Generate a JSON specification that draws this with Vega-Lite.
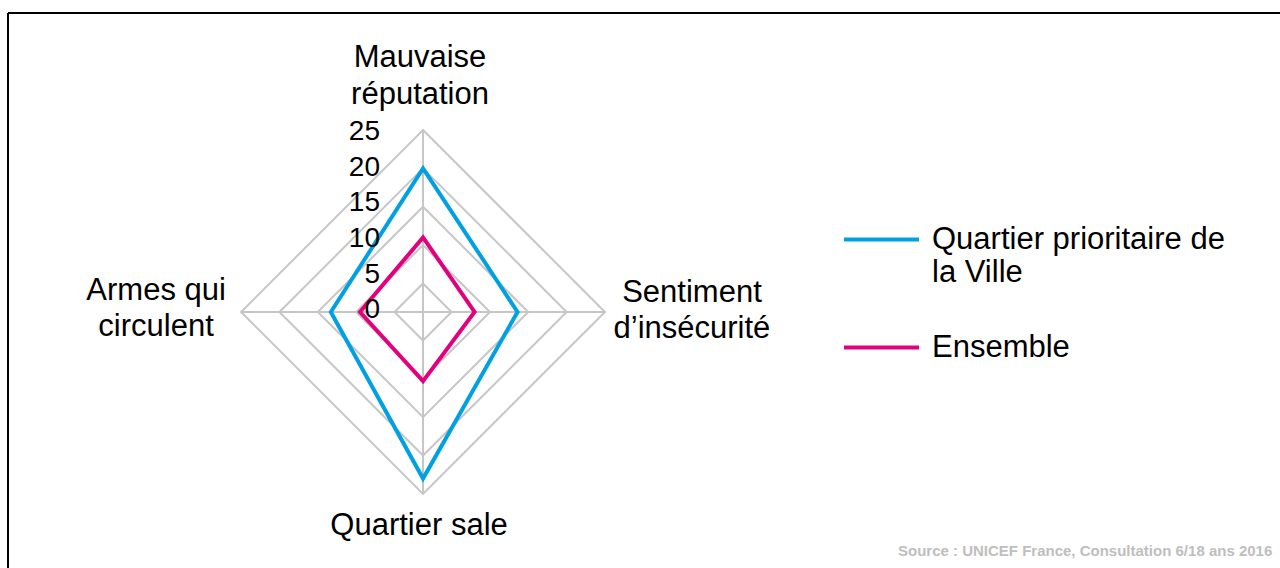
{
  "$schema": "https://vega.github.io/schema/vega-lite/v6.json",
  "width": 1272,
  "height": 555,
  "padding": {"left": 8, "top": 13, "right": 0, "bottom": 0},
  "autosize": {"type": "none"},
  "background": "white",
  "title": {
    "text": "Source : UNICEF France, Consultation 6/18 ans 2016",
    "orient": "bottom",
    "anchor": "start",
    "frame": "group",
    "dx": 890,
    "offset": -13,
    "font": "Liberation Sans",
    "fontSize": 15,
    "fontWeight": "bold",
    "color": "#BEBEBE",
    "baseline": "alphabetic"
  },
  "config": {
    "view": {"stroke": null},
    "font": "Liberation Sans",
    "legend": {
      "orient": "none",
      "legendX": 834,
      "legendY": 187,
      "padding": 0,
      "title": null,
      "symbolType": "stroke",
      "symbolSize": 5625,
      "symbolStrokeWidth": 4,
      "labelFont": "Liberation Sans",
      "labelFontSize": 31,
      "labelColor": "black",
      "labelOffset": 11,
      "labelLimit": 0,
      "labelBaseline": "middle",
      "rowPadding": 20
    }
  },
  "datasets": {
    "series": [
      {"serie": "Quartier prioritaire de la Ville", "axe": "Mauvaise réputation", "valeur": 20},
      {"serie": "Quartier prioritaire de la Ville", "axe": "Sentiment d’insécurité", "valeur": 13.6},
      {"serie": "Quartier prioritaire de la Ville", "axe": "Quartier sale", "valeur": 23},
      {"serie": "Quartier prioritaire de la Ville", "axe": "Armes qui circulent", "valeur": 13.3},
      {"serie": "Ensemble", "axe": "Mauvaise réputation", "valeur": 11},
      {"serie": "Ensemble", "axe": "Sentiment d’insécurité", "valeur": 8},
      {"serie": "Ensemble", "axe": "Quartier sale", "valeur": 10.3},
      {"serie": "Ensemble", "axe": "Armes qui circulent", "valeur": 9.5}
    ],
    "grille": [
      {"anneau": 5, "axe": "Mauvaise réputation"}, {"anneau": 5, "axe": "Sentiment d’insécurité"}, {"anneau": 5, "axe": "Quartier sale"}, {"anneau": 5, "axe": "Armes qui circulent"},
      {"anneau": 10, "axe": "Mauvaise réputation"}, {"anneau": 10, "axe": "Sentiment d’insécurité"}, {"anneau": 10, "axe": "Quartier sale"}, {"anneau": 10, "axe": "Armes qui circulent"},
      {"anneau": 15, "axe": "Mauvaise réputation"}, {"anneau": 15, "axe": "Sentiment d’insécurité"}, {"anneau": 15, "axe": "Quartier sale"}, {"anneau": 15, "axe": "Armes qui circulent"},
      {"anneau": 20, "axe": "Mauvaise réputation"}, {"anneau": 20, "axe": "Sentiment d’insécurité"}, {"anneau": 20, "axe": "Quartier sale"}, {"anneau": 20, "axe": "Armes qui circulent"},
      {"anneau": 25, "axe": "Mauvaise réputation"}, {"anneau": 25, "axe": "Sentiment d’insécurité"}, {"anneau": 25, "axe": "Quartier sale"}, {"anneau": 25, "axe": "Armes qui circulent"}
    ],
    "graduations": [
      {"graduation": 0}, {"graduation": 5}, {"graduation": 10}, {"graduation": 15}, {"graduation": 20}, {"graduation": 25}
    ],
    "axes": [
      {"axe": "Mauvaise réputation", "libelle": "Mauvaise\nréputation", "anneau": 25},
      {"axe": "Sentiment d’insécurité", "libelle": "Sentiment\nd’insécurité", "anneau": 25},
      {"axe": "Quartier sale", "libelle": "Quartier sale", "anneau": 25},
      {"axe": "Armes qui circulent", "libelle": "Armes qui\ncirculent", "anneau": 25}
    ]
  },
  "layer": [
    {
      "data": {"values": [{"bord": -54.11}]},
      "mark": {"type": "rule", "color": "black", "strokeWidth": 2},
      "encoding": {"x": {"field": "bord", "type": "quantitative", "scale": {"domain": [-54.11, 111.73], "nice": false, "zero": false}, "axis": null}}
    },
    {
      "data": {"values": [{"bord": 38.98}]},
      "mark": {"type": "rule", "color": "black", "strokeWidth": 2},
      "encoding": {"y": {"field": "bord", "type": "quantitative", "scale": {"domain": [-33.38, 38.98], "nice": false, "zero": false}, "axis": null}}
    },
    {
      "data": {"name": "grille"},
      "transform": [
        {"calculate": "indexof(['Mauvaise réputation','Sentiment d’insécurité','Quartier sale','Armes qui circulent'], datum.axe)", "as": "i"},
        {"calculate": "max(0, datum.anneau - 1.28)", "as": "r"},
        {"calculate": "datum.r * cos(PI/2 - datum.i*PI/2)", "as": "x"},
        {"calculate": "datum.r * sin(PI/2 - datum.i*PI/2)", "as": "y"}
      ],
      "mark": {"type": "line", "interpolate": "linear-closed", "color": "#C6C6C6", "strokeWidth": 2},
      "encoding": {
        "x": {"field": "x", "type": "quantitative", "scale": {"domain": [-54.11, 111.73], "nice": false, "zero": false}, "axis": null},
        "y": {"field": "y", "type": "quantitative", "scale": {"domain": [-33.38, 38.98], "nice": false, "zero": false}, "axis": null},
        "detail": {"field": "anneau", "type": "nominal"},
        "order": {"field": "i", "type": "quantitative"}
      }
    },
    {
      "data": {"name": "grille"},
      "transform": [
        {"filter": "datum.anneau == 25"},
        {"calculate": "indexof(['Mauvaise réputation','Sentiment d’insécurité','Quartier sale','Armes qui circulent'], datum.axe)", "as": "i"},
        {"calculate": "max(0, datum.anneau - 1.28)", "as": "r"},
        {"calculate": "datum.r * cos(PI/2 - datum.i*PI/2)", "as": "x"},
        {"calculate": "datum.r * sin(PI/2 - datum.i*PI/2)", "as": "y"},
        {"calculate": "0", "as": "centre"}
      ],
      "mark": {"type": "rule", "color": "#C6C6C6", "strokeWidth": 2},
      "encoding": {
        "x": {"field": "centre", "type": "quantitative"},
        "y": {"field": "centre", "type": "quantitative"},
        "x2": {"field": "x"},
        "y2": {"field": "y"}
      }
    },
    {
      "data": {"name": "series"},
      "transform": [
        {"calculate": "indexof(['Mauvaise réputation','Sentiment d’insécurité','Quartier sale','Armes qui circulent'], datum.axe)", "as": "i"},
        {"calculate": "max(0, datum.valeur - 1.28)", "as": "r"},
        {"calculate": "datum.r * cos(PI/2 - datum.i*PI/2)", "as": "x"},
        {"calculate": "datum.r * sin(PI/2 - datum.i*PI/2)", "as": "y"}
      ],
      "mark": {"type": "line", "interpolate": "linear-closed", "strokeWidth": 4, "strokeJoin": "miter"},
      "encoding": {
        "x": {"field": "x", "type": "quantitative"},
        "y": {"field": "y", "type": "quantitative"},
        "color": {
          "field": "serie",
          "type": "nominal",
          "scale": {"domain": ["Quartier prioritaire de la Ville", "Ensemble"], "range": ["#00A0E2", "#E4007C"]},
          "legend": {"labelExpr": "datum.label == 'Quartier prioritaire de la Ville' ? ['Quartier prioritaire de', 'la Ville'] : datum.label"}
        },
        "order": {"field": "i", "type": "quantitative"}
      }
    },
    {
      "data": {"name": "graduations"},
      "transform": [
        {"calculate": "0.931 * datum.graduation - 0.85", "as": "ly"},
        {"calculate": "0", "as": "centre"}
      ],
      "mark": {"type": "text", "align": "right", "baseline": "alphabetic", "dx": -43, "fontSize": 28, "font": "Liberation Sans", "color": "black"},
      "encoding": {
        "x": {"field": "centre", "type": "quantitative"},
        "y": {"field": "ly", "type": "quantitative"},
        "text": {"field": "graduation", "type": "quantitative"}
      }
    },
    {
      "data": {"name": "axes"},
      "transform": [
        {"filter": "datum.axe == 'Mauvaise réputation'"},
        {"calculate": "datum.anneau - 1.28", "as": "y"},
        {"calculate": "0", "as": "x"}
      ],
      "mark": {"type": "text", "align": "center", "baseline": "alphabetic", "dx": -3, "dy": -63, "fontSize": 31, "lineHeight": 37, "lineBreak": "\n", "font": "Liberation Sans", "color": "black"},
      "encoding": {
        "x": {"field": "x", "type": "quantitative"},
        "y": {"field": "y", "type": "quantitative"},
        "text": {"field": "libelle", "type": "nominal"}
      }
    },
    {
      "data": {"name": "axes"},
      "transform": [
        {"filter": "datum.axe == 'Sentiment d’insécurité'"},
        {"calculate": "datum.anneau - 1.28", "as": "x"},
        {"calculate": "0", "as": "y"}
      ],
      "mark": {"type": "text", "align": "center", "baseline": "alphabetic", "dx": 87, "dy": -10, "fontSize": 31, "lineHeight": 36, "lineBreak": "\n", "font": "Liberation Sans", "color": "black"},
      "encoding": {
        "x": {"field": "x", "type": "quantitative"},
        "y": {"field": "y", "type": "quantitative"},
        "text": {"field": "libelle", "type": "nominal"}
      }
    },
    {
      "data": {"name": "axes"},
      "transform": [
        {"filter": "datum.axe == 'Quartier sale'"},
        {"calculate": "1.28 - datum.anneau", "as": "y"},
        {"calculate": "0", "as": "x"}
      ],
      "mark": {"type": "text", "align": "center", "baseline": "alphabetic", "dx": -4, "dy": 41, "fontSize": 31, "lineHeight": 36, "lineBreak": "\n", "font": "Liberation Sans", "color": "black"},
      "encoding": {
        "x": {"field": "x", "type": "quantitative"},
        "y": {"field": "y", "type": "quantitative"},
        "text": {"field": "libelle", "type": "nominal"}
      }
    },
    {
      "data": {"name": "axes"},
      "transform": [
        {"filter": "datum.axe == 'Armes qui circulent'"},
        {"calculate": "1.28 - datum.anneau", "as": "x"},
        {"calculate": "0", "as": "y"}
      ],
      "mark": {"type": "text", "align": "center", "baseline": "alphabetic", "dx": -85, "dy": -12, "fontSize": 31, "lineHeight": 36, "lineBreak": "\n", "font": "Liberation Sans", "color": "black"},
      "encoding": {
        "x": {"field": "x", "type": "quantitative"},
        "y": {"field": "y", "type": "quantitative"},
        "text": {"field": "libelle", "type": "nominal"}
      }
    }
  ]
}
